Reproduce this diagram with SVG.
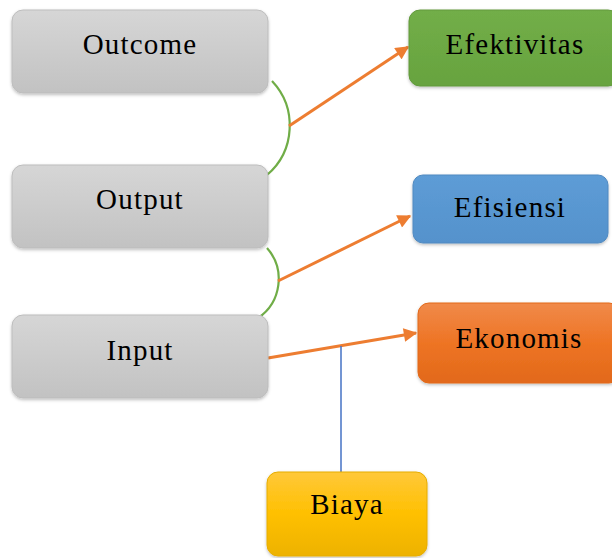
<svg xmlns="http://www.w3.org/2000/svg" width="612" height="558" viewBox="0 0 612 558">
<style>
text{font-family:"Liberation Serif","Times New Roman",serif;font-size:29px;fill:#000;text-anchor:middle;letter-spacing:1.2px}
.arrow{stroke:#ed7d31;stroke-width:3;fill:none;marker-end:url(#ah)}
.arc{stroke:#70ad47;stroke-width:2.2;fill:none}
</style>
<defs>
<linearGradient id="gGray" x1="0" y1="0" x2="0" y2="1"><stop offset="0" stop-color="#d6d6d6"/><stop offset="1" stop-color="#c2c2c2"/></linearGradient>
<linearGradient id="gGreen" x1="0" y1="0" x2="0" y2="1"><stop offset="0" stop-color="#72ae48"/><stop offset="1" stop-color="#67a33f"/></linearGradient>
<linearGradient id="gBlue" x1="0" y1="0" x2="0" y2="1"><stop offset="0" stop-color="#5d9cd6"/><stop offset="1" stop-color="#5592cc"/></linearGradient>
<linearGradient id="gOrange" x1="0" y1="0" x2="0" y2="1"><stop offset="0" stop-color="#f08a4a"/><stop offset="0.5" stop-color="#ee7424"/><stop offset="1" stop-color="#e2691a"/></linearGradient>
<linearGradient id="gYellow" x1="0" y1="0" x2="0" y2="1"><stop offset="0" stop-color="#ffc83a"/><stop offset="0.5" stop-color="#ffc000"/><stop offset="1" stop-color="#edb200"/></linearGradient>
<filter id="sh" x="-10%" y="-10%" width="120%" height="130%"><feDropShadow dx="0" dy="1.5" stdDeviation="1.5" flood-color="#000" flood-opacity="0.25"/></filter>
<marker id="ah" viewBox="0 0 10 10" refX="9" refY="5" markerWidth="5" markerHeight="4.5" orient="auto" markerUnits="strokeWidth"><path d="M0,0 L10,5 L0,10 z" fill="#ed7d31"/></marker>
</defs>
<g id="connectors">
<path class="arc" d="M272,81 A65,65 0 0 1 267,175"/>
<path class="arc" d="M267,248 A47,47 0 0 1 258,318"/>
<path class="arrow" d="M289,126 L408,47"/>
<path class="arrow" d="M278,281 L410,216"/>
<path class="arrow" d="M268,358 L416,333"/>
<path d="M341,346 L341,472" stroke="#4472c4" stroke-width="1.5" fill="none"/>
</g>
<g id="outcome"><rect x="12" y="10" width="256" height="83" rx="11" fill="url(#gGray)" stroke="#bdbdbd" filter="url(#sh)"/><text x="140" y="54">Outcome</text></g>
<g id="output"><rect x="12" y="165" width="256" height="83" rx="11" fill="url(#gGray)" stroke="#bdbdbd" filter="url(#sh)"/><text x="140" y="209">Output</text></g>
<g id="input"><rect x="12" y="315" width="256" height="83" rx="11" fill="url(#gGray)" stroke="#bdbdbd" filter="url(#sh)"/><text x="140" y="360">Input</text></g>
<g id="efektivitas"><rect x="409" y="10" width="210" height="76" rx="11" fill="url(#gGreen)" stroke="#62993d" filter="url(#sh)"/><text x="515" y="54">Efektivitas</text></g>
<g id="efisiensi"><rect x="413" y="175" width="195" height="68" rx="10" fill="url(#gBlue)" stroke="#5089c0" filter="url(#sh)"/><text x="510" y="217">Efisiensi</text></g>
<g id="ekonomis"><rect x="418" y="303" width="202" height="80" rx="11" fill="url(#gOrange)" stroke="#e2691a" filter="url(#sh)"/><text x="519" y="348">Ekonomis</text></g>
<g id="biaya"><rect x="267" y="472" width="160" height="84" rx="11" fill="url(#gYellow)" stroke="#e6ad00" filter="url(#sh)"/><text x="347" y="514">Biaya</text></g>
</svg>
